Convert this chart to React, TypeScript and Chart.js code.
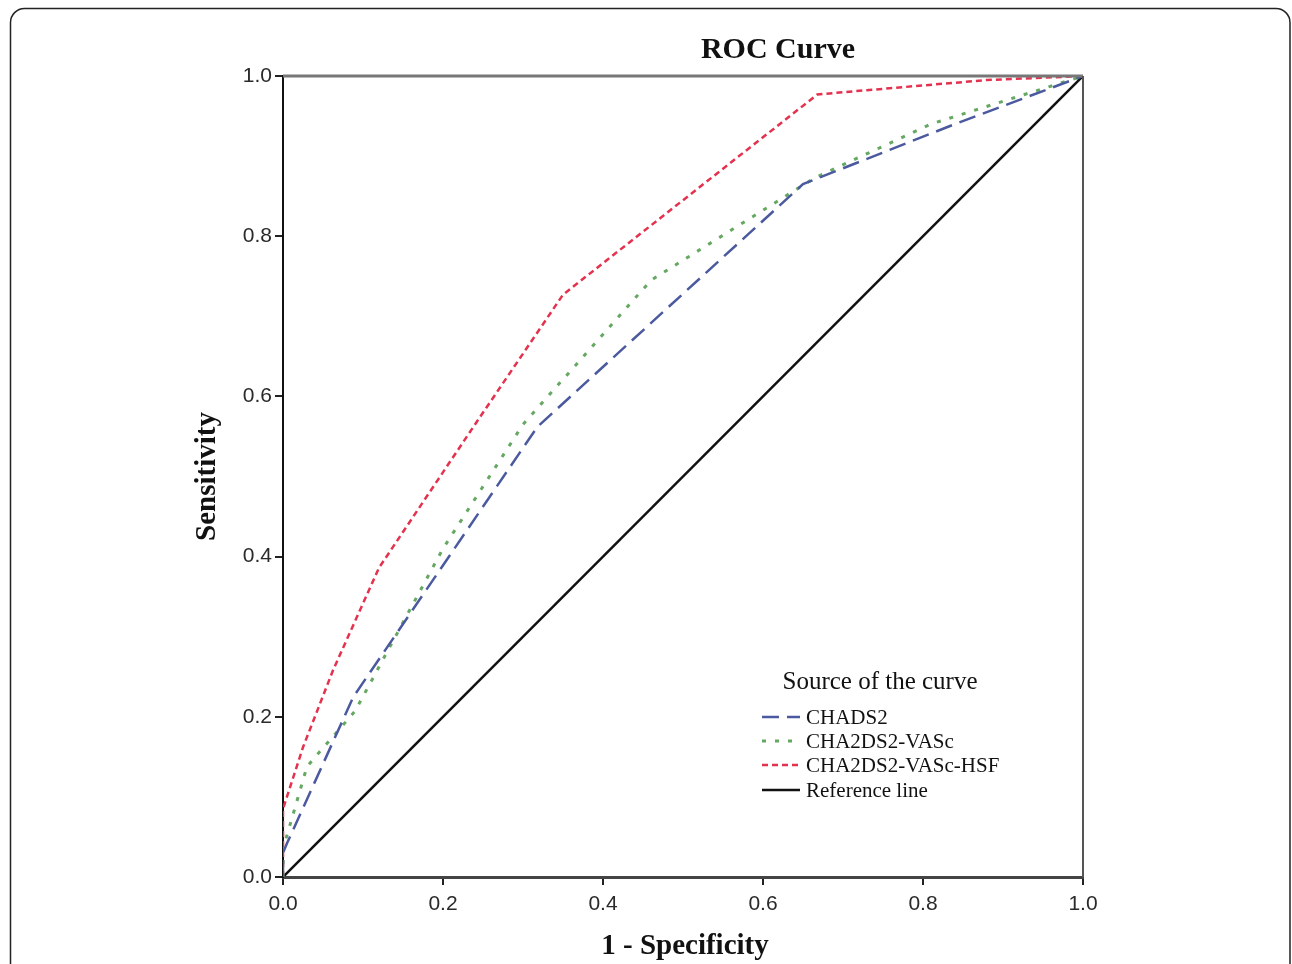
import React, { useEffect, useRef } from "react";
import { Chart, registerables } from "chart.js";

Chart.register(...registerables);

// ---- data ----
const chadsX = [0, 0, 0.005, 0.088, 0.318, 0.65, 0.84, 1];
const chadsY = [0, 0.03, 0.042, 0.225, 0.562, 0.865, 0.94, 1];

const vascX = [0, 0, 0.03, 0.09, 0.2, 0.3, 0.46, 0.665, 0.81, 1];
const vascY = [0, 0.035, 0.138, 0.207, 0.41, 0.565, 0.745, 0.873, 0.94, 1];

const hsfX = [0, 0, 0.025, 0.0625, 0.12, 0.24, 0.35, 0.668, 0.88, 1];
const hsfY = [0, 0.085, 0.162, 0.258, 0.386, 0.565, 0.727, 0.977, 0.995, 1];

const refX = [0, 1];
const refY = [0, 1];

const seriesNames = ["CHADS2", "CHA2DS2-VASc", "CHA2DS2-VASc-HSF", "Reference line"];
const xTickValues = [0, 0.2, 0.4, 0.6, 0.8, 1.0];
const yTickValues = [0, 0.2, 0.4, 0.6, 0.8, 1.0];

const chartTitle = "ROC Curve";
const xTitle = "1 - Specificity";
const yTitle = "Sensitivity";
const legendTitle = "Source of the curve";

const toPoints = (xs: number[], ys: number[]) => xs.map((x, i) => ({ x, y: ys[i] }));

const SERIF = "'Liberation Serif', 'DejaVu Serif', serif";
const SANS = "'Liberation Sans Narrow', 'Liberation Sans', Arial, sans-serif";

const decorPlugin = {
  id: "decor",
  beforeDraw(chart: any) {
    const { ctx } = chart;
    ctx.save();
    ctx.strokeStyle = "#222";
    ctx.lineWidth = 1.5;
    ctx.beginPath();
    const x0 = 10.5, y0 = 8.5, x1 = 1290, y1 = 1100, r = 14;
    ctx.moveTo(x0, y1);
    ctx.lineTo(x0, y0 + r);
    ctx.arcTo(x0, y0, x0 + r, y0, r);
    ctx.lineTo(x1 - r, y0);
    ctx.arcTo(x1, y0, x1, y0 + r, r);
    ctx.lineTo(x1, y1);
    ctx.stroke();
    ctx.restore();
  },
  afterDraw(chart: any) {
    const { ctx, chartArea } = chart;
    const { left, right, top, bottom } = chartArea;
    ctx.save();
    ctx.strokeStyle = "#777";
    ctx.lineWidth = 3;
    ctx.beginPath();
    ctx.moveTo(left, top);
    ctx.lineTo(right, top);
    ctx.stroke();
    ctx.strokeStyle = "#555";
    ctx.lineWidth = 2;
    ctx.beginPath();
    ctx.moveTo(right, top);
    ctx.lineTo(right, bottom);
    ctx.stroke();

    // titles
    ctx.fillStyle = "#111";
    ctx.textAlign = "center";
    ctx.textBaseline = "middle";
    ctx.font = `bold 30px ${SERIF}`;
    ctx.fillText(chartTitle, 778, 50);
    ctx.font = `bold 29px ${SERIF}`;
    ctx.fillText(xTitle, (left + right) / 2 + 2, 947);
    ctx.save();
    ctx.translate(208, (top + bottom) / 2);
    ctx.rotate(-Math.PI / 2);
    ctx.fillText(yTitle, 0, 0);
    ctx.restore();

    // legend
    const lx = 762, lw = 38;
    ctx.font = `25px ${SERIF}`;
    ctx.fillStyle = "#111";
    ctx.textAlign = "center";
    ctx.fillText(legendTitle, 880, 682);
    ctx.textAlign = "left";
    ctx.font = `21px ${SERIF}`;
    const rowY = [717, 741, 765, 790];
    chart.data.datasets.forEach((ds: any, i: number) => {
      const y = rowY[i];
      ctx.save();
      ctx.strokeStyle = ds.borderColor;
      ctx.lineWidth = ds.borderWidth;
      ctx.setLineDash(ds.borderDash || []);
      ctx.beginPath();
      ctx.moveTo(lx, y);
      ctx.lineTo(lx + lw, y);
      ctx.stroke();
      ctx.restore();
      ctx.fillText(ds.label, 806, y + 1);
    });
    ctx.restore();
  },
};

export default function App() {
  const ref = useRef<HTMLCanvasElement | null>(null);
  useEffect(() => {
    document.body.style.margin = "0";
    document.body.style.overflow = "hidden";
    document.body.style.background = "#fff";
    const canvas = ref.current!;
    const tickFont = { family: SANS, size: 21 };
    const chart = new Chart(canvas, {
      type: "scatter",
      data: {
        datasets: [
          {
            label: seriesNames[0],
            data: toPoints(chadsX, chadsY),
            showLine: true,
            borderColor: "#4b5a9f",
            borderWidth: 2.5,
            borderDash: [17, 8],
            pointRadius: 0,
            fill: false,
          },
          {
            label: seriesNames[1],
            data: toPoints(vascX, vascY),
            showLine: true,
            borderColor: "#66a862",
            borderWidth: 3,
            borderDash: [4, 9],
            pointRadius: 0,
            fill: false,
          },
          {
            label: seriesNames[2],
            data: toPoints(hsfX, hsfY),
            showLine: true,
            borderColor: "#e4324e",
            borderWidth: 2.5,
            borderDash: [6, 4],
            pointRadius: 0,
            fill: false,
          },
          {
            label: seriesNames[3],
            data: toPoints(refX, refY),
            showLine: true,
            borderColor: "#111",
            borderWidth: 2.5,
            pointRadius: 0,
            fill: false,
          },
        ],
      },
      options: {
        responsive: false,
        animation: false,
        layout: { padding: { left: 0, top: 76, right: 209, bottom: 0 } },
        plugins: {
          legend: { display: false },
          title: { display: false },
          tooltip: { enabled: false },
        },
        scales: {
          x: {
            type: "linear",
            min: 0,
            max: 1,
            afterFit: (s: any) => {
              s.height = 87;
            },
            afterBuildTicks: (s: any) => {
              s.ticks = xTickValues.map((v) => ({ value: v }));
            },
            ticks: {
              callback: (v: any) => Number(v).toFixed(1),
              font: tickFont,
              color: "#2a2a2a",
              padding: 7,
              maxRotation: 0,
            },
            grid: {
              drawOnChartArea: false,
              drawTicks: true,
              tickLength: 8,
              color: "#222",
              lineWidth: 2,
            },
            border: { display: true, color: "#444", width: 3 },
          },
          y: {
            type: "linear",
            min: 0,
            max: 1,
            afterFit: (s: any) => {
              s.width = 283;
            },
            afterBuildTicks: (s: any) => {
              s.ticks = yTickValues.map((v) => ({ value: v }));
            },
            ticks: {
              callback: (v: any) => Number(v).toFixed(1),
              font: tickFont,
              color: "#2a2a2a",
              padding: 3,
            },
            grid: {
              drawOnChartArea: false,
              drawTicks: true,
              tickLength: 8,
              color: "#222",
              lineWidth: 2,
            },
            border: { display: true, color: "#111", width: 2 },
          },
        },
      },
      plugins: [decorPlugin],
    });
    return () => chart.destroy();
  }, []);
  return <canvas ref={ref} width={1292} height={964} style={{ display: "block" }} />;
}
